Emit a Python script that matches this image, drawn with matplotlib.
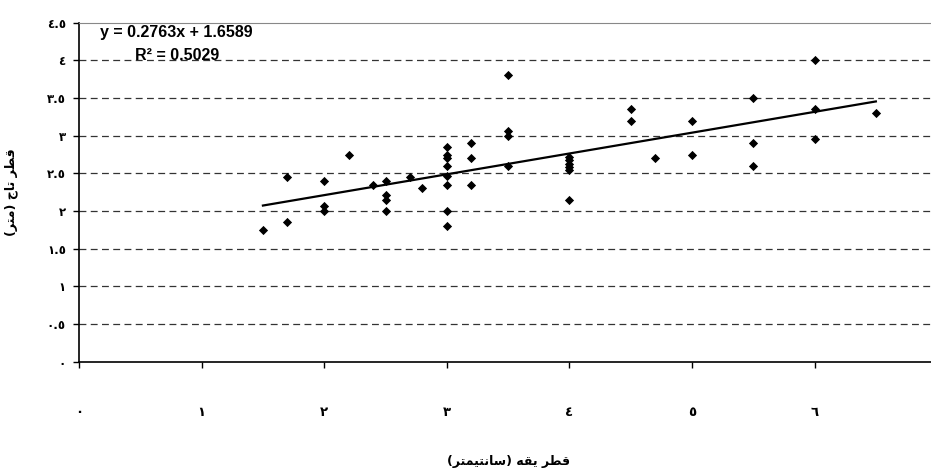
import numpy as np
import matplotlib
matplotlib.use("Agg")
import matplotlib.pyplot as plt

# === Daten ===
collar_diam = [1.5, 1.7, 1.7, 2.0, 2.0, 2.0, 2.2, 2.4, 2.5, 2.5, 2.5, 2.5, 2.7, 2.8,
               3.0, 3.0, 3.0, 3.0, 3.0, 3.0, 3.0, 3.0,
               3.2, 3.2, 3.2,
               3.5, 3.5, 3.5, 3.5,
               4.0, 4.0, 4.0, 4.0, 4.0, 4.0,
               4.5, 4.5, 4.7, 5.0, 5.0,
               5.5, 5.5, 5.5, 6.0, 6.0, 6.0, 6.5]
crown_diam = [1.75, 2.45, 1.85, 2.40, 2.07, 2.00, 2.75, 2.35, 2.40, 2.21, 2.15, 2.00, 2.45, 2.30,
              2.85, 2.75, 2.70, 2.60, 2.46, 2.35, 2.00, 1.80,
              2.90, 2.70, 2.35,
              3.80, 3.06, 3.00, 2.60,
              2.72, 2.68, 2.63, 2.59, 2.55, 2.15,
              3.35, 3.20, 2.70, 3.20, 2.75,
              3.50, 2.90, 2.60, 4.00, 3.35, 2.95, 3.30]

slope, intercept, r2 = 0.2763, 1.6589, 0.5029

x_ticks = [0, 1, 2, 3, 4, 5, 6]
x_tick_labels = ["٠", "١", "٢", "٣", "٤", "٥", "٦"]
y_ticks = [0, 0.5, 1, 1.5, 2, 2.5, 3, 3.5, 4, 4.5]
y_tick_labels = ["٠", "٠.٥", "١", "١.٥", "٢", "٢.٥", "٣", "٣.٥", "٤", "٤.٥"]

# Achsentitel, von Hand in Praesentationsformen gesetzt (matplotlib formt kein Arabisch)
x_title = "(\uFEAE\uFE98\uFEE4\uFEF4\uFE98\uFEE7\uFE8E\uFEB3) \uFEEA\uFED8\uFEF3 \uFEAE\uFEC4\uFED7"   # قطر یقه (سانتیمتر)
y_title = "(\uFEAE\uFE98\uFEE3) \uFE9D\uFE8E\uFE97 \uFEAE\uFEC4\uFED7"                              # قطر تاج (متر)

# === Plot ===
fig = plt.figure(figsize=(9.31, 4.68), dpi=100)
ax = fig.add_axes([0.0849, 0.227, 0.9217, 0.7245])

ax.set_xlim(0, 7)
ax.set_ylim(0, 4.5)

for yv in y_ticks[1:-1]:
    ax.axhline(yv, color="#333333", lw=0.9, linestyle=(0, (5.5, 3.5)), zorder=1)

ax.scatter(collar_diam, crown_diam, marker="D", s=22, color="black", zorder=3, linewidths=0)

xs = np.array([min(collar_diam), max(collar_diam)])
ax.plot(xs, slope * xs + intercept, color="black", lw=1.6, zorder=2)

ax.text(0.17, 4.37, f"y = {slope}x + {intercept}", fontsize=11.5, fontweight="bold",
        family="Liberation Sans", va="center", ha="left")
ax.text(0.80, 4.07, f"R² = {r2}", fontsize=11.5, fontweight="bold",
        family="Liberation Sans", va="center", ha="center")

ax.spines["right"].set_visible(False)
ax.spines["top"].set_color("#888888")
ax.spines["left"].set_linewidth(1.2)
ax.spines["bottom"].set_linewidth(1.2)

ax.set_xticks(x_ticks)
ax.set_xticklabels(x_tick_labels, fontsize=9.5, fontweight="bold", family="DejaVu Sans")
ax.set_yticks(y_ticks)
ax.set_yticklabels(y_tick_labels, fontsize=8.5, fontweight="bold", family="DejaVu Sans")
ax.tick_params(axis="x", length=4.5, width=1, pad=27)
ax.tick_params(axis="y", length=4.5, width=1, pad=5)

ax.set_xlabel(x_title, fontsize=9, fontweight="bold", family="DejaVu Sans")
ax.set_ylabel(y_title, fontsize=9, fontweight="bold", family="DejaVu Sans")
ax.xaxis.set_label_coords(0.5, -0.275)
ax.yaxis.set_label_coords(-0.071, 0.5)

plt.savefig("out.png", dpi=100)
plt.close()
